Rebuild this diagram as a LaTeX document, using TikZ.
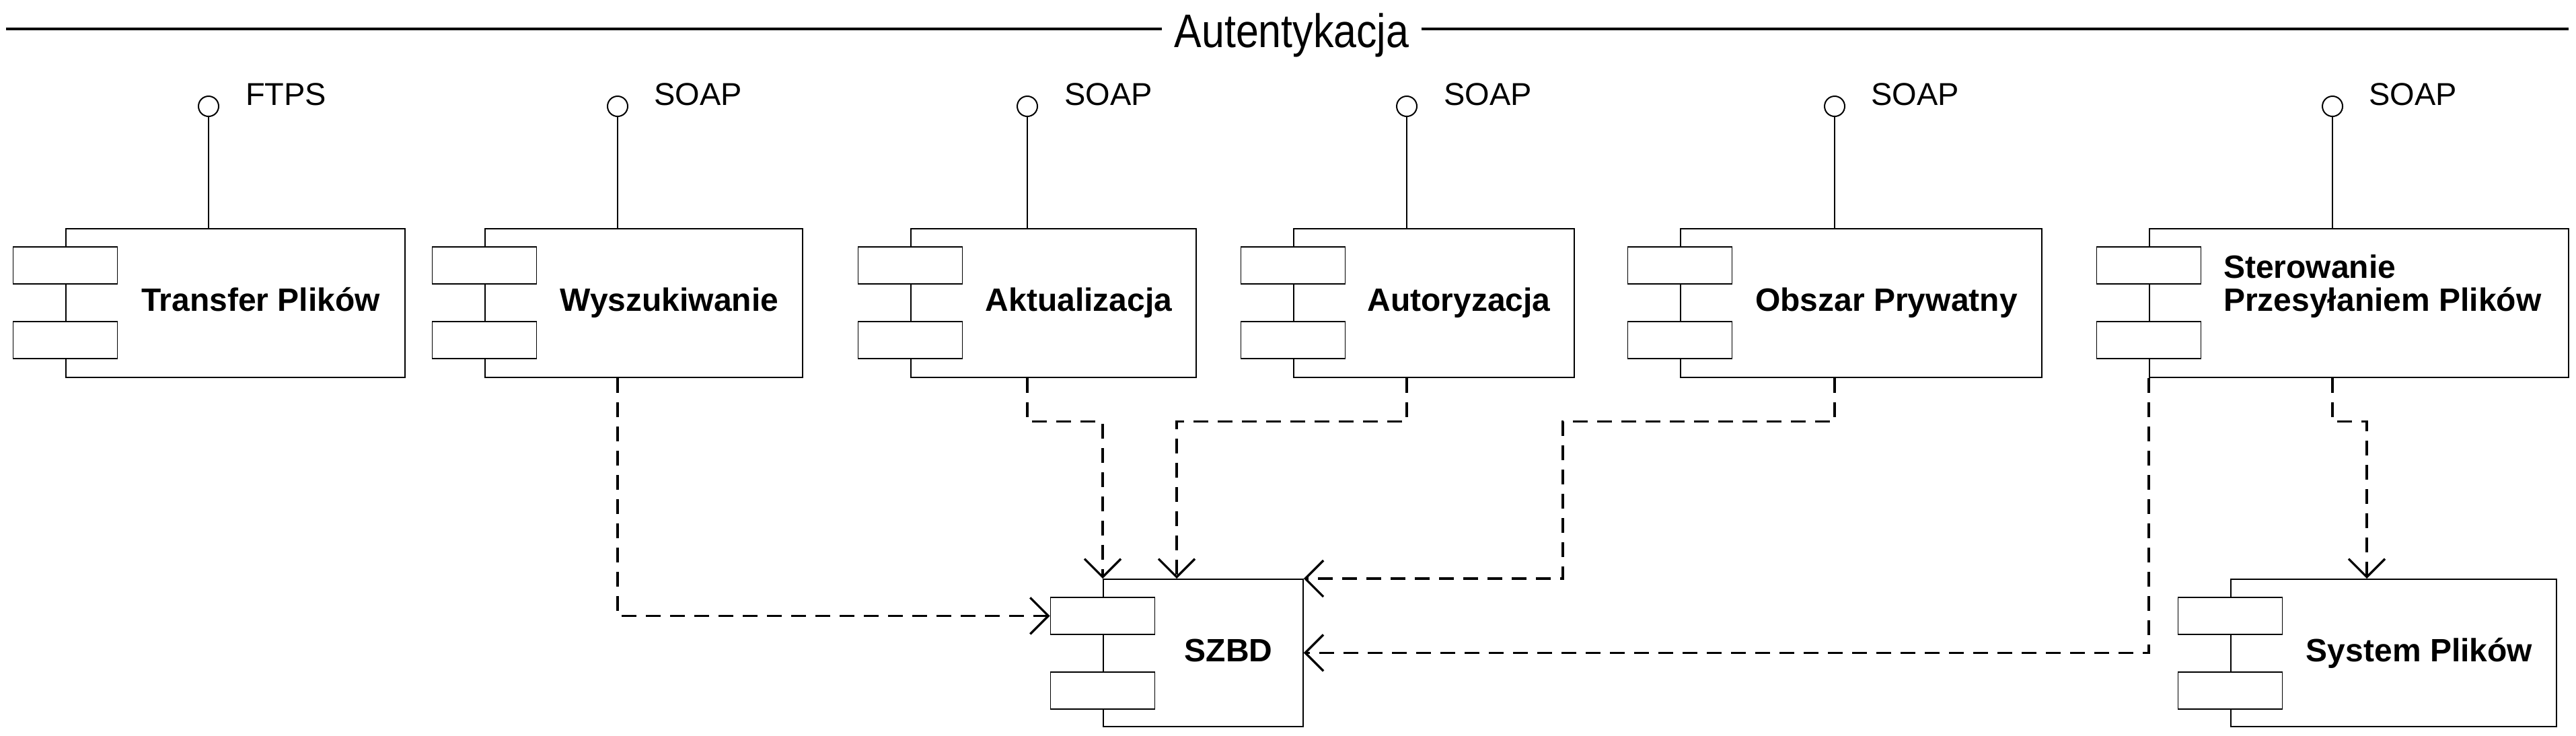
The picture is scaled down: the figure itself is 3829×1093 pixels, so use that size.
\documentclass[tikz,border=0pt]{standalone}
\usepackage{fontspec}
\setmainfont{Liberation Sans}
\newfontfamily\titlefont{Liberation Sans}[FakeStretch=0.87]
\usetikzlibrary{arrows.meta,calc}
\tikzset{
  mainbox/.style={draw, line width=1.8pt, rectangle, inner sep=0pt, fill=white},
  smallbox/.style={draw, line width=1.8pt, rectangle, inner sep=0pt, fill=white, minimum width=155pt, minimum height=55pt},
  lolli/.style={draw, line width=2pt, circle, inner sep=0pt, minimum size=30pt, fill=white},
  stem/.style={line width=2.5pt},
  iflabel/.style={inner sep=0pt, anchor=base west, font=\fontsize{47}{56}\selectfont},
  complabel/.style={inner sep=0pt, anchor=base, font=\bfseries\fontsize{48}{49}\selectfont, align=left},
  dep/.style={line width=3.3pt, dash pattern=on 22pt off 14pt, -{Straight Barb[length=27pt, width=54pt, line width=3.3pt]}},
  titleline/.style={line width=4pt}
}
\newcommand\umlcomp[5]{%
  \node[mainbox, minimum width=#4pt, minimum height=#5pt, anchor=north west] (#1) at (#2,#3) {};
  \node[smallbox, anchor=north] (#1-p1) at ([yshift=-27pt]#1.north west) {};
  \node[smallbox, anchor=north] (#1-p2) at ([yshift=-138pt]#1.north west) {};
}
\begin{document}
\begin{tikzpicture}[x=1pt, y=-1pt]
\useasboundingbox (0,0) rectangle (3829,1093);

% title
\node[font=\titlefont\fontsize{70}{84}\selectfont, inner xsep=18pt, inner ysep=0pt, anchor=base] (title) at (1920,70) {Autentykacja};
\coordinate (tl) at (9,43);
\coordinate (tr) at (3818,43);
\draw[titleline] (tl) -- (tl -| title.west);
\draw[titleline] (title.east |- tr) -- (tr);

% components (top row)
\umlcomp{tf}{97}{339}{504}{221}
\umlcomp{wy}{720}{339}{472}{221}
\umlcomp{ak}{1353}{339}{424}{221}
\umlcomp{au}{1922}{339}{417}{221}
\umlcomp{ob}{2497}{339}{537}{221}
\umlcomp{st}{3194}{339}{623}{221}
% bottom row
\umlcomp{db}{1639}{860}{297}{219}
\umlcomp{fs}{3315}{860}{484}{219}

% labels
\node[complabel] (tf-l) at (387.5,462) {Transfer Plików};
\node[complabel] (wy-l) at (995,462) {Wyszukiwanie};
\node[complabel] (ak-l) at (1603.5,462) {Aktualizacja};
\node[complabel] (au-l) at (2168.5,462) {Autoryzacja};
\node[complabel] (ob-l) at (2804,462) {Obszar Prywatny};
\node[complabel, anchor=north west, inner sep=0pt] (st-l) at (3305,379) {Sterowanie\\Przesyłaniem Plików};
\node[complabel] (db-l) at (1826,983) {SZBD};
\node[complabel] (fs-l) at (3596,983) {System Plików};

% interfaces (lollipops)
\node[lolli] (tf-if) at (310,158) {};
\node[lolli] (wy-if) at (918,158) {};
\node[lolli] (ak-if) at (1527,158) {};
\node[lolli] (au-if) at (2091,158) {};
\node[lolli] (ob-if) at (2727,158) {};
\node[lolli] (st-if) at (3467,158) {};
\foreach \c in {tf,wy,ak,au,ob,st}{
  \draw[stem] (\c-if.south) -- (\c-if |- \c.north);
}
\node[iflabel] (tf-il) at (365,156) {FTPS};
\node[iflabel] (wy-il) at (972,156) {SOAP};
\node[iflabel] (ak-il) at (1582,156) {SOAP};
\node[iflabel] (au-il) at (2146,156) {SOAP};
\node[iflabel] (ob-il) at (2781,156) {SOAP};
\node[iflabel] (st-il) at (3521,156) {SOAP};

% dependencies
\coordinate (obk) at (2323,860);
\draw[dep] (wy-if |- wy.south) |- (db-p1.west);
\draw[dep] (ak-if |- ak.south) -- ++(0,65) -| (db.north west);
\draw[dep] (au-if |- au.south) -- ++(0,65) -| ([xshift=110pt]db.north west);
\draw[dep] (ob-if |- ob.south) -- ++(0,65) -| (obk) -- (db.north east);
\draw[dep] (st.south west) |- (db.east);
\draw[dep] (st-if |- st.south) -- ++(0,65) -| ([xshift=203pt]fs.north west);
\end{tikzpicture}
\end{document}
